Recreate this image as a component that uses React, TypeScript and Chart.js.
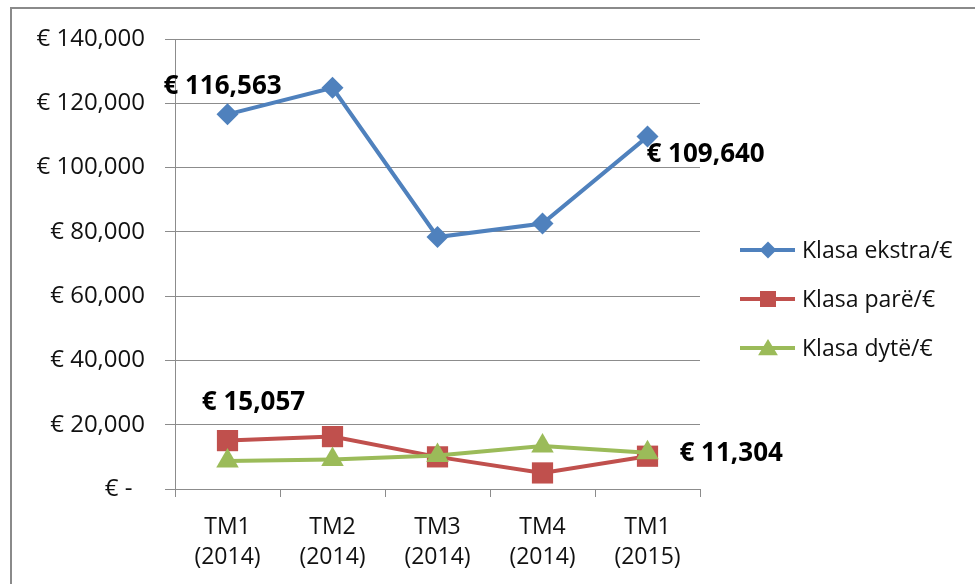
import React, { useEffect, useRef } from 'react';
import { Chart, registerables } from 'chart.js';

Chart.register(...registerables);

// ---- Data ----
const categories: string[][] = [
  ['TM1', '(2014)'],
  ['TM2', '(2014)'],
  ['TM3', '(2014)'],
  ['TM4', '(2014)'],
  ['TM1', '(2015)'],
];
const seriesNames = ['Klasa ekstra/€', 'Klasa parë/€', 'Klasa dytë/€'];
const klasaEkstra = [116563, 124800, 78400, 82600, 109640];
const klasaPare = [15057, 16300, 10000, 5000, 10200];
const klasaDyte = [8700, 9200, 10400, 13400, 11304];
const yMin = 0;
const yMax = 140000;
const yStep = 20000;
// which points carry a value label: [datasetIndex, pointIndex]
const labeledPoints: [number, number][] = [
  [0, 0],
  [0, 4],
  [1, 0],
  [2, 4],
];

// ---- Styles ----
const COLORS = ['#4F81BD', '#C0504D', '#9BBB59'];
const POINT_STYLES = ['rectRot', 'rect', 'triangle'];
const POINT_RADII = [11, 15, 13];
const FONT = '"Open Sans", "DejaVu Sans", sans-serif';
const GRID = '#8c8c8c';
const labelPlacement: Record<string, { dx: number; dy: number; align: CanvasTextAlign }> = {
  '0-0': { dx: -5, dy: -28, align: 'center' },
  '0-4': { dx: -1, dy: 18, align: 'left' },
  '1-0': { dx: 26, dy: -38, align: 'center' },
  '2-4': { dx: 32, dy: 1, align: 'left' },
};

const fmt = (v: number) => '€ ' + v.toLocaleString('en-US');

const valueLabelPlugin = {
  id: 'valueLabels',
  afterDatasetsDraw(chart: any) {
    const ctx = chart.ctx;
    ctx.save();
    ctx.font = `bold 26px ${FONT}`;
    ctx.fillStyle = '#000';
    ctx.textBaseline = 'middle';
    labeledPoints.forEach(([ds, i]) => {
      const pt = chart.getDatasetMeta(ds).data[i];
      const val = chart.data.datasets[ds].data[i] as number;
      const p = labelPlacement[`${ds}-${i}`];
      ctx.textAlign = p.align;
      ctx.fillText(fmt(val), pt.x + p.dx, pt.y + p.dy);
    });
    ctx.restore();
  },
};

const drawMarker = (ctx: CanvasRenderingContext2D, style: string, x: number, y: number, r: number) => {
  ctx.beginPath();
  if (style === 'rectRot') {
    ctx.moveTo(x, y - r);
    ctx.lineTo(x + r, y);
    ctx.lineTo(x, y + r);
    ctx.lineTo(x - r, y);
  } else if (style === 'rect') {
    ctx.rect(x - r, y - r, 2 * r, 2 * r);
  } else {
    ctx.moveTo(x, y - r);
    ctx.lineTo(x + r * 1.1, y + r * 0.8);
    ctx.lineTo(x - r * 1.1, y + r * 0.8);
  }
  ctx.closePath();
  ctx.fill();
};

const legendPlugin = {
  id: 'customLegend',
  afterDraw(chart: any) {
    const ctx = chart.ctx;
    ctx.save();
    chart.data.datasets.forEach((d: any, k: number) => {
      const y = 250 + 49 * k;
      ctx.strokeStyle = d.borderColor;
      ctx.fillStyle = d.borderColor;
      ctx.lineWidth = 4;
      ctx.beginPath();
      ctx.moveTo(740, y);
      ctx.lineTo(795, y);
      ctx.stroke();
      const sizes = [8.5, 8, 9];
      drawMarker(ctx, POINT_STYLES[k], 768, y, sizes[k]);
      ctx.fillStyle = '#111';
      ctx.font = `23px ${FONT}`;
      ctx.textAlign = 'left';
      ctx.textBaseline = 'middle';
      ctx.fillText(d.label, 802, y + 1);
    });
    ctx.restore();
  },
};

export default function App() {
  const ref = useRef<HTMLCanvasElement | null>(null);

  useEffect(() => {
    let chart: Chart | null = null;
    let cancelled = false;
    const make = () => {
      if (cancelled || !ref.current) return;
      const series = [klasaEkstra, klasaPare, klasaDyte];
      chart = new Chart(ref.current, {
        type: 'line',
        data: {
          labels: categories,
          datasets: series.map((s, k) => ({
            label: seriesNames[k],
            data: s,
            borderColor: COLORS[k],
            backgroundColor: COLORS[k],
            pointBackgroundColor: COLORS[k],
            pointBorderColor: COLORS[k],
            pointBorderWidth: 0,
            pointStyle: POINT_STYLES[k] as any,
            pointRadius: POINT_RADII[k],
            borderWidth: 4,
            tension: 0,
            fill: false,
            order: 2 - k,
          })),
        },
        options: {
          animation: false,
          responsive: false,
          maintainAspectRatio: false,
          layout: { padding: { top: 39, right: 275, left: 0, bottom: 0 } },
          plugins: {
            legend: { display: false },
            tooltip: { enabled: false },
          },
          scales: {
            x: {
              offset: true,
              grid: {
                offset: true,
                drawOnChartArea: false,
                drawTicks: true,
                tickLength: 8,
                color: GRID,
              },
              border: { display: true, color: GRID, width: 1 },
              ticks: {
                color: '#111',
                font: { family: FONT, size: 23, lineHeight: 1.3 },
                padding: 16,
                maxRotation: 0,
                autoSkip: false,
              },
              afterFit: (scale: any) => {
                scale.height = 95;
              },
            },
            y: {
              min: yMin,
              max: yMax,
              grid: { color: GRID, tickLength: 10, lineWidth: 1 },
              border: { display: true, color: GRID, width: 1 },
              ticks: {
                stepSize: yStep,
                color: '#111',
                padding: 20,
                font: { family: FONT, size: 24 },
                callback: (v: any) => (Number(v) === 0 ? '€ -  ' : fmt(Number(v))),
              },
              afterFit: (scale: any) => {
                scale.width = 175;
              },
            },
          },
        },
        plugins: [valueLabelPlugin, legendPlugin],
      });
    };
    const fontsApi = (document as any).fonts;
    if (fontsApi && fontsApi.load) {
      Promise.all([
        fontsApi.load(`23px "Open Sans"`),
        fontsApi.load(`bold 26px "Open Sans"`),
      ])
        .catch(() => null)
        .then(make);
    } else {
      make();
    }
    return () => {
      cancelled = true;
      if (chart) chart.destroy();
    };
  }, []);

  return (
    <div style={{ position: 'fixed', left: 0, top: 0, width: 975, height: 584, background: '#fff' }}>
      <canvas ref={ref} width={975} height={584} style={{ display: 'block', width: 975, height: 584 }} />
      <div
        style={{
          position: 'absolute',
          left: 10,
          top: 7,
          width: 965,
          height: 577,
          borderTop: '2px solid #8a8a8a',
          borderLeft: '2px solid #8a8a8a',
          pointerEvents: 'none',
        }}
      />
    </div>
  );
}
